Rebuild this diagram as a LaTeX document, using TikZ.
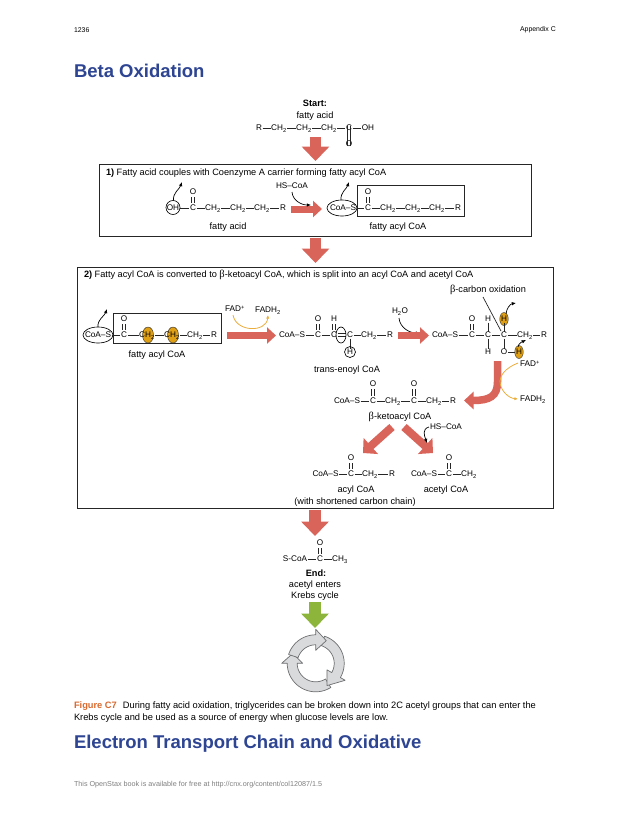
\documentclass[tikz,border=0pt]{standalone}
\usepackage{fontspec}
\setmainfont{Liberation Sans}
\newfontfamily\betafam{Liberation Serif}
\usetikzlibrary{arrows.meta,shapes.geometric}
\definecolor{blockred}{HTML}{D9645A}
\definecolor{blockgreen}{HTML}{8DB53C}
\definecolor{titleblue}{HTML}{2E4593}
\definecolor{figorange}{HTML}{D9692E}
\definecolor{hlorange}{HTML}{E0A015}
\definecolor{arcorange}{HTML}{EBAE3C}
\definecolor{cyclegray}{HTML}{D9DADC}
\definecolor{cycleline}{HTML}{6E6F71}
\newcommand\CHtwo{CH\textsubscript{2}}
\newcommand\Bta{{\betafam\fontsize{10.5}{10}\selectfont β}}
\newcommand\atom[4]{\node[atomnode] (#1) at (#2,#3) {#4};}
\newcommand\lbl[4]{\node[labelnode] (#1) at (#2,#3) {#4};}
\newcommand\bd[2]{\draw[bond] (#1) -- (#2);}
\newcommand\dbl[2]{\draw[bond,shorten >=1.5pt,shorten <=1.5pt] ([xshift=-1.3pt]#1.south) -- ([xshift=-1.3pt]#2.north);\draw[bond,shorten >=1.5pt,shorten <=1.5pt] ([xshift=1.3pt]#1.south) -- ([xshift=1.3pt]#2.north);}
\newcommand\block[6]{\coordinate (#1a) at (#2,#3);\coordinate (#1b) at (#4,#5);\draw[#6] (#1a) -- (#1b);}
\newcommand\curv[7]{\coordinate (#1a) at (#2,#3);\coordinate (#1b) at (#4,#5);\draw[#7] (#1a) to[#6] (#1b);}
\tikzset{
 atomnode/.style={inner sep=0.6pt,outer sep=0pt,font=\fontsize{8.2}{9}\selectfont,text height=5.8pt,text depth=0pt},
 labelnode/.style={inner sep=0pt,outer sep=0pt,font=\fontsize{9.2}{10}\selectfont,text height=6.6pt,text depth=0pt},
 leftnode/.style={inner sep=0pt,outer sep=0pt,anchor=west},
 bond/.style={line width=0.7pt,black!85},
 framebox/.style={draw=black!85,line width=0.9pt},
 ring/.style={draw=black,line width=0.65pt,ellipse,inner sep=0pt,outer sep=0pt},
 hl/.style={draw=black!80,line width=0.4pt,fill=hlorange,ellipse,inner sep=0pt,outer sep=0pt},
 downblock/.style={line width=11.5pt,blockred,-{Triangle[length=14.5pt,width=27pt]}},
 greenblock/.style={downblock,blockgreen},
 sideblock/.style={line width=7pt,blockred,-{Triangle[length=9pt,width=16pt]}},
 diagblock/.style={line width=8pt,blockred,-{Triangle[length=10.5pt,width=21pt]}},
 curved/.style={line width=0.7pt,black,-{Latex[length=4.2pt,width=3.6pt]}},
 goldarc/.style={line width=0.8pt,arcorange,-{Latex[length=3.6pt,width=3.2pt]}},
 cyc/.style={draw=cycleline,fill=cyclegray,line width=0.7pt,line join=round},
}
\newcommand\cycarrow[3]{% tail angle, head base angle, tip angle
 \filldraw[cyc] plot[domain=#1:#2,samples=30] ({315.7+28.5*cos(\x)},{663.3-28.5*sin(\x)})
  -- ({315.7+34*cos(#2)},{663.3-34*sin(#2)})
  -- ({315.7+25*cos(#3)},{663.3-25*sin(#3)})
  -- ({315.7+13*cos(#2)},{663.3-13*sin(#2)})
  -- plot[domain=#2:#1,samples=30] ({315.7+18.5*cos(\x)},{663.3-18.5*sin(\x)}) -- cycle;}
\begin{document}
\begin{tikzpicture}[x=1pt,y=-1pt]
\fill[white] (0,0) rectangle (630,815);
\useasboundingbox (0,0) rectangle (630,815);
% page text
\node[leftnode,font=\fontsize{6.9}{8}\selectfont] (pagenum) at (74,30) {1236};
\node[inner sep=0pt,anchor=east,font=\fontsize{6.9}{8}\selectfont] (appendix) at (556,30) {Appendix C};
\node[leftnode,font=\fontsize{18.5}{20}\selectfont\bfseries,text=titleblue] (title) at (74,71) {Beta Oxidation};
% frames
\node[framebox,minimum width=432pt,minimum height=72pt,inner sep=0pt,anchor=north west] (boxone) at (99,164) {};
\node[framebox,minimum width=476pt,minimum height=241pt,inner sep=0pt,anchor=north west] (boxtwo) at (77,267) {};
% start
\node[labelnode,font=\fontsize{9.2}{10}\selectfont\bfseries] (start) at (315,103) {Start:};
\lbl{startname}{315}{115}{fatty acid}
\atom{sR}{259}{128}{R}\atom{sA}{279}{128}{\CHtwo}\atom{sB}{304}{128}{\CHtwo}\atom{sC}{329}{128}{\CHtwo}\atom{sD}{349}{128}{C}\atom{sE}{368}{128}{OH}\atom{sO}{349}{144}{O}
\bd{sR}{sA}\bd{sA}{sB}\bd{sB}{sC}\bd{sC}{sD}\bd{sD}{sE}\dbl{sO}{sD}
\block{aone}{315.5}{137}{315.5}{161}{downblock}
% box 1
\node[leftnode,font=\fontsize{9.2}{10}\selectfont] (onetitle) at (106,173) {\textbf{1)} Fatty acid couples with Coenzyme A carrier forming fatty acyl CoA};
\atom{aOH}{173}{208}{OH}\atom{aC}{193}{208}{C}\atom{aO}{193}{192}{O}\atom{aA}{213}{208}{\CHtwo}\atom{aB}{238}{208}{\CHtwo}\atom{aD}{262}{208}{\CHtwo}\atom{aR}{283}{208}{R}
\bd{aOH}{aC}\bd{aC}{aA}\bd{aA}{aB}\bd{aB}{aD}\bd{aD}{aR}\dbl{aO}{aC}
\node[ring,minimum width=14pt,minimum height=14pt] (ringOH) at (173,207.5) {};
\lbl{faname}{228}{226.5}{fatty acid}
\curv{lvone}{173.5}{200.5}{182}{182}{out=95,in=250}{curved}
\atom{hsone}{292}{186}{HS–CoA}
\block{atwoside}{291}{209}{322}{209}{sideblock}
\curv{hsarrow}{292}{192}{311}{205}{out=-85,in=180}{curved}
\node[framebox,minimum width=107pt,minimum height=31pt,inner sep=0pt,anchor=north west,line width=0.8pt] (acylboxa) at (357,185) {};
\node[ring,minimum width=30pt,minimum height=16pt] (ringCoA) at (342,208) {};
\atom{bS}{343}{208}{CoA–S}\atom{bC}{368}{208}{C}\atom{bO}{368}{192}{O}\atom{bA}{388}{208}{\CHtwo}\atom{bB}{413}{208}{\CHtwo}\atom{bD}{437}{208}{\CHtwo}\atom{bR}{458}{208}{R}
\bd{bS}{bC}\bd{bC}{bA}\bd{bA}{bB}\bd{bB}{bD}\bd{bD}{bR}\dbl{bO}{bC}
\lbl{fanameb}{398}{226.5}{fatty acyl CoA}
\curv{lvtwo}{341}{200}{349}{182}{out=95,in=250}{curved}
\block{athree}{315.5}{238}{315.5}{263}{downblock}
% box 2
\node[leftnode,font=\fontsize{9.2}{10}\selectfont] (twotitle) at (84,275) {\textbf{2)} Fatty acyl CoA is converted to \Bta-ketoacyl CoA, which is split into an acyl CoA and acetyl CoA};
\node[framebox,minimum width=108pt,minimum height=30pt,inner sep=0pt,anchor=north west,line width=0.8pt] (acylboxb) at (113,313) {};
\node[ring,minimum width=30pt,minimum height=16pt] (ringCoAb) at (98,335) {};
\node[hl,minimum width=11pt,minimum height=16pt] (hlA) at (148,335) {};
\node[hl,minimum width=11pt,minimum height=16pt] (hlB) at (173,335) {};
\atom{cS}{98}{335}{CoA–S}\atom{cC}{124}{335}{C}\atom{cO}{124}{319}{O}\atom{cA}{147}{335}{\CHtwo}\atom{cB}{172}{335}{\CHtwo}\atom{cD}{195}{335}{\CHtwo}\atom{cR}{214}{335}{R}
\bd{cS}{cC}\bd{cC}{cA}\bd{cA}{cB}\bd{cB}{cD}\bd{cD}{cR}\dbl{cO}{cC}
\lbl{acylname}{157}{354.5}{fatty acyl CoA}
\curv{lvthree}{98}{327}{107}{309}{out=95,in=250}{curved}
\atom{fadA}{235}{309}{FAD\textsuperscript{+}}\atom{fadhA}{268}{310}{FADH\textsubscript{2}}
\curv{arcA}{233}{315}{268}{315}{out=-80,in=-95,looseness=1.3}{goldarc}
\block{afour}{227}{335.5}{276}{335.5}{sideblock}
\atom{dS}{292}{335}{CoA–S}\atom{dC}{318}{335}{C}\atom{dO}{318}{319}{O}\atom{dE}{334}{335}{C}\atom{dH}{334}{319}{H}\atom{dF}{350}{335}{C}\atom{dA}{369}{335}{\CHtwo}\atom{dR}{390}{335}{R}\atom{dHb}{350}{352}{H}
\bd{dS}{dC}\bd{dC}{dE}\dbl{dH}{dE}\draw[bond] ([yshift=-1.3pt]dE.east) -- ([yshift=-1.3pt]dF.west);\draw[bond] ([yshift=1.3pt]dE.east) -- ([yshift=1.3pt]dF.west);\bd{dF}{dA}\bd{dA}{dR}\dbl{dO}{dC}\bd{dF}{dHb}
\node[ring,minimum width=10pt,minimum height=16pt] (ringdbl) at (341,335) {};
\node[ring,minimum width=11pt,minimum height=11pt] (ringH) at (350,352) {};
\lbl{enoyl}{347}{369}{trans-enoyl CoA}
\atom{water}{400}{311}{H\textsubscript{2}O}
\curv{wArrow}{399}{318}{420}{333}{out=-85,in=180}{curved}
\block{afive}{398}{335.5}{429}{335.5}{sideblock}
\lbl{carbonox}{488}{289}{\Bta-carbon oxidation}
\node[hl,minimum width=8.5pt,minimum height=13pt] (hlC) at (504,319) {};
\node[hl,minimum width=8.5pt,minimum height=13pt] (hlD) at (519,352) {};
\atom{eS}{445}{335}{CoA–S}\atom{eC}{472}{335}{C}\atom{eO}{472}{319}{O}\atom{eD}{488}{335}{C}\atom{eHa}{488}{319}{H}\atom{eHb}{488}{352}{H}\atom{eF}{504}{335}{C}\atom{eHc}{504}{319}{H}\atom{eOb}{504}{352}{O}\atom{eHd}{519}{352}{H}\atom{eA}{525}{335}{\CHtwo}\atom{eR}{544}{335}{R}
\bd{eS}{eC}\bd{eC}{eD}\bd{eD}{eF}\bd{eF}{eA}\bd{eA}{eR}\dbl{eO}{eC}\bd{eHa}{eD}\bd{eD}{eHb}\bd{eHc}{eF}\bd{eF}{eOb}\bd{eOb}{eHd}
\coordinate (ptrA) at (483,297);\coordinate (ptrB) at (501,331);\draw[bond] (ptrA) -- (ptrB);
\curv{lvfour}{506}{314}{516}{303}{out=85,in=190}{curved}
\curv{lvfive}{518}{347}{526}{340}{out=80,in=205}{curved}
% J arrow
\coordinate (jA) at (497.5,361);\coordinate (jB) at (464,400.5);
\draw[line width=7.5pt,blockred,-{Triangle[length=9.5pt,width=17pt]}] (jA) -- (497.5,382) .. controls (497.5,396) and (490,400.5) .. (jB);
\atom{fadB}{530}{364}{FAD\textsuperscript{+}}\atom{fadhB}{533}{399}{FADH\textsubscript{2}}
\coordinate (goldA) at (518,363);\coordinate (goldB) at (518,399);
\draw[goldarc] (goldA) .. controls (505,368) and (500,376) .. (500,381) .. controls (500,390) and (508,398) .. (goldB);
\atom{fS}{347}{401}{CoA–S}\atom{fC}{373}{401}{C}\atom{fO}{373}{384}{O}\atom{fA}{393}{401}{\CHtwo}\atom{fD}{414}{401}{C}\atom{fOb}{414}{384}{O}\atom{fB}{434}{401}{\CHtwo}\atom{fR}{453}{401}{R}
\bd{fS}{fC}\bd{fC}{fA}\bd{fA}{fD}\bd{fD}{fB}\bd{fB}{fR}\dbl{fO}{fC}\dbl{fOb}{fD}
\lbl{ketoname}{400}{416}{\Bta-ketoacyl CoA}
\block{dleft}{392}{427}{363}{453}{diagblock}
\block{dright}{404}{427}{433}{453}{diagblock}
\atom{hstwo}{446}{427}{HS–CoA}
\curv{hsb}{429}{427}{427}{443}{out=195,in=110,looseness=1.2}{curved}
\atom{gS}{325.5}{474}{CoA–S}\atom{gC}{351}{474}{C}\atom{gO}{351}{458}{O}\atom{gA}{370}{474}{\CHtwo}\atom{gR}{392}{474}{R}
\bd{gS}{gC}\bd{gC}{gA}\bd{gA}{gR}\dbl{gO}{gC}
\atom{hS}{424}{474}{CoA–S}\atom{hC}{449}{474}{C}\atom{hO}{449}{458}{O}\atom{hA}{469}{474}{\CHtwo}
\bd{hS}{hC}\bd{hC}{hA}\dbl{hO}{hC}
\lbl{acylshort}{356}{489}{acyl CoA}
\lbl{shortened}{355}{501}{(with shortened carbon chain)}
\lbl{acetyl}{446}{489}{acetyl CoA}
% end
\block{asix}{315}{510}{315}{536}{downblock}
\atom{iS}{295}{559}{S-CoA}\atom{iC}{320}{559}{C}\atom{iO}{320}{543}{O}\atom{iM}{340}{559}{CH\textsubscript{3}}
\bd{iS}{iC}\bd{iC}{iM}\dbl{iO}{iC}
\node[labelnode,font=\fontsize{9.2}{10}\selectfont\bfseries] (endlabel) at (316,573) {End:};
\lbl{enters}{315}{584}{acetyl enters}
\lbl{krebs}{315}{595}{Krebs cycle}
\block{agreen}{315}{602}{315}{628}{greenblock}
% Krebs cycle
\cycarrow{-58}{-180}{157}
\cycarrow{72}{-30}{-63}
\cycarrow{162}{90}{65}
% caption
\node[leftnode,font=\fontsize{9.3}{10}\selectfont] (capone) at (74,706) {{\color{figorange}\textbf{Figure C7}}\hspace{6pt}During fatty acid oxidation, triglycerides can be broken down into 2C acetyl groups that can enter the};
\node[leftnode,font=\fontsize{9.3}{10}\selectfont] (captwo) at (74,718) {Krebs cycle and be used as a source of energy when glucose levels are low.};
\node[leftnode,font=\fontsize{18.5}{20}\selectfont\bfseries,text=titleblue] (titletwo) at (74,744) {Electron Transport Chain and Oxidative};
\node[leftnode,font=\fontsize{7.2}{8}\selectfont,text=black!50] (footer) at (74,785) {This OpenStax book is available for free at http://cnx.org/content/col12087/1.5};
\end{tikzpicture}
\end{document}
